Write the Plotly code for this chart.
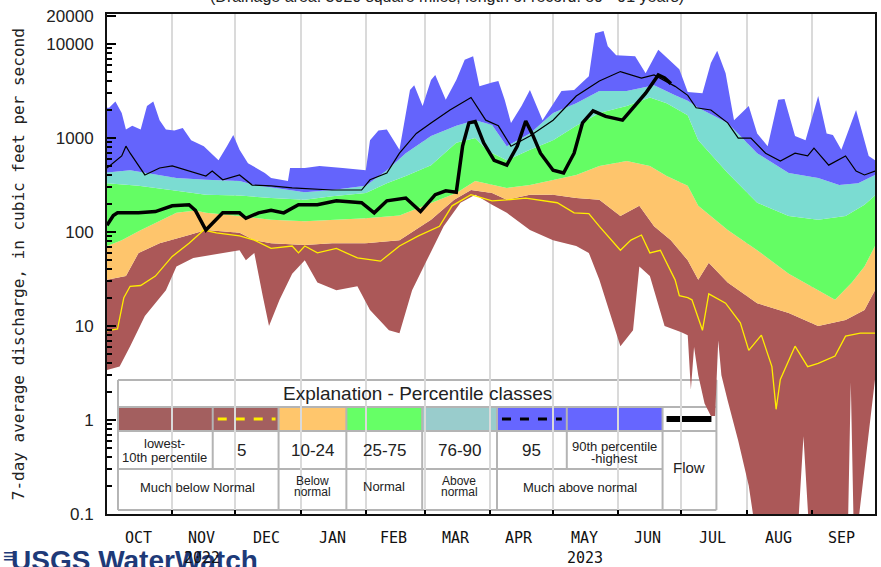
import plotly.graph_objects as go
import pandas as pd

# ---------------- data (day offset from 2022-10-01, value in cfs) ----------------
START = "2022-10-01"

max_days = [0, 1, 4, 7, 9, 12, 16, 19, 22, 25, 28, 32, 36, 40, 46, 53, 57, 60, 63, 67, 75, 78, 86, 87, 94,
            101, 112, 123, 125, 129, 133, 139, 144, 146, 150, 154, 156, 161, 166, 170, 174, 177, 183,
            186, 189, 192, 197, 201, 207, 212, 216, 222, 229, 232, 236, 238, 242, 251, 256, 262, 267, 272,
            276, 283, 287, 290, 294, 298, 305, 309, 314, 319, 322, 327, 332, 338, 342, 345, 349, 356, 362, 365]
max_vals = [2100, 2100, 2450, 1850, 1230, 1350, 1230, 2200, 2450, 1550, 1230, 1200, 1280, 950, 820, 580, 820, 1080,
            750, 540, 425, 375, 350, 480, 480,
            505, 480, 455, 950, 1200, 1230, 750, 3250, 3650, 2200, 4150, 4700, 2550, 4150, 6800, 7400, 3550, 3900,
            4050, 2550, 1450, 2200, 3250, 1550, 2350, 3170, 3250, 4550, 13000, 13800, 9500, 7600, 7400, 4900, 8700,
            6800, 5400,
            3100, 3000, 6300, 8500, 4900, 1550, 2200, 1120, 820, 2550, 2600, 1050, 950, 2800, 1120, 1080, 750, 1990,
            645, 580]

p90_days = [0, 11, 33, 47, 63, 70, 94, 107, 123, 133, 142, 154, 166, 175, 183, 190, 201, 212, 223, 234, 247,
            260, 270, 276, 281, 295, 309, 324, 338, 348, 357, 365]
p90_vals = [430, 455, 375, 360, 350, 316, 265, 280, 310, 455, 690, 1050, 1350, 1550, 1380, 820, 1120, 1850, 2350,
            3170, 3170, 3650, 2850, 2500, 2100, 1450, 690, 425, 375, 316, 330, 405]

p75_days = [0, 15, 33, 47, 63, 78, 94, 107, 123, 133, 142, 154, 166, 175, 181, 190, 201, 212, 223, 234, 247,
            258, 266, 276, 281, 295, 309, 324, 338, 351, 360, 365]
p75_vals = [330, 310, 275, 250, 245, 230, 220, 240, 260, 330, 395, 515, 890, 1000, 730, 580, 750, 950, 1350, 1850,
            2200, 2700, 2350, 1750, 950, 425, 205, 148, 135, 148, 195, 245]

p25_days = [0, 7, 15, 33, 42, 47, 63, 78, 94, 107, 123, 139, 154, 166, 175, 183, 190, 201, 212, 223, 234, 247,
            258, 266, 276, 281, 295, 309, 324, 338, 346, 354, 360, 365]
p25_vals = [71, 82, 102, 160, 170, 160, 148, 135, 130, 135, 140, 150, 205, 260, 350, 320, 295, 316, 360, 405, 505,
            570, 505, 395, 310, 190, 105, 64, 36, 24, 19, 29, 43, 71]

p10_days = [0, 9, 15, 25, 39, 47, 63, 70, 78, 94, 107, 123, 139, 154, 165, 173, 183, 190, 201, 212, 223, 234,
            244, 253, 260, 268, 276, 281, 286, 295, 309, 324, 338, 351, 360, 365]
p10_vals = [31, 34, 60, 76, 93, 105, 98, 82, 76, 73, 76, 76, 82, 135, 220, 280, 260, 220, 250, 250, 230, 220,
            148, 190, 115, 82, 50, 31, 47, 29, 17.5, 13.8, 10, 11.6, 14.8, 24]

min_days = [0, 6, 11, 18, 28, 33, 41, 55, 63, 66, 70, 74, 77, 82, 88, 94, 100, 109, 119, 125, 134, 139, 145, 152,
            160, 168, 175, 183, 190, 201, 212, 223, 229, 234, 239, 244, 250, 253, 258, 265, 273, 276, 277.5, 279,
            281, 284, 287, 289, 290.5, 292, 295, 300, 305, 309, 328, 331, 334, 352, 353.5, 355, 357, 360, 363, 365]
min_vals = [3.4, 3.7, 6.1, 12.8, 24, 43, 53, 60, 64, 50, 60, 21, 10, 19, 36, 50, 29, 24, 26.5, 14.8, 9, 8.4, 24, 50,
            115, 205, 250, 195, 160, 105, 82, 71, 60, 31, 13.8, 6.1, 9, 43, 34, 10, 8.6, 8, 2.1, 6,
            3, 1.5, 1.1, 1.1, 7, 3, 1.6, 0.6, 0.2, 0.05, 0.05, 0.67, 0.05, 0.05, 2.5, 0.05, 0.08, 0.3, 1.0, 2.7]

p5_days = [0, 5, 8, 11, 16, 23, 31, 39, 46, 52, 63, 70, 78, 88, 91, 94, 100, 109, 119, 130, 139, 148, 158, 164,
           173, 183, 190, 199, 214, 222, 229, 234, 244, 249, 254, 258, 263, 270, 272, 276, 278, 283, 286, 294, 301,
           305, 311, 316, 318, 320, 327, 333, 338, 346, 351, 358, 365]
p5_vals = [8.9, 9.3, 20, 26.5, 27, 34, 55, 76, 105, 98, 91, 82, 67, 71, 60, 71, 60, 67, 53, 49, 71, 91, 115, 190,
           250, 215, 220, 230, 205, 160, 157, 115, 64, 82, 93, 60, 64, 31, 21, 20, 19, 9, 22, 17.5, 10.8,
           5.5, 8, 3.7, 1.3, 2.7, 6.1, 3.7, 4.0, 4.8, 7.8, 8.4, 8.4]

p95_days = [0, 7, 9, 11, 18, 25, 31, 39, 47, 50, 55, 63, 69, 78, 88, 107, 121, 125, 133, 139, 147, 154, 163, 173,
            180, 186, 192, 201, 212, 223, 234, 244, 254, 260, 270, 276, 280, 287, 295, 300, 306, 313, 320, 327,
            333, 336, 343, 351, 356, 360, 365]
p95_vals = [480, 645, 820, 690, 405, 480, 505, 445, 395, 445, 360, 405, 316, 310, 295, 280, 280, 360, 425, 690, 1120,
            1450, 1990, 2700, 1550, 1350, 820, 1050, 1550, 2800, 4050, 5100, 4350, 4700, 3550, 2850, 2100, 1990,
            1450, 1000, 1000, 690, 570, 690, 645, 780, 515, 645, 445, 405, 445]

flow_days = [0, 3, 5, 15, 23, 31, 39, 42, 47, 52, 55, 63, 66, 72, 78, 84, 91, 100, 109, 121, 127, 133, 142, 149,
             156, 161, 166, 169, 172, 175, 179, 184, 190, 195, 199, 202, 206, 212, 217, 222, 226, 231, 237, 245,
             250, 256, 262, 265, 268]
flow_vals = [118, 150, 160, 160, 165, 190, 195, 170, 105, 135, 160, 160, 140, 160, 170, 160, 195, 195, 215, 205,
             160, 215, 230, 165, 250, 275, 265, 820, 1450, 1500, 890, 580, 515, 820, 1520, 1120, 690, 455, 425, 690,
             1450, 1950, 1700, 1550, 2100, 3000, 4700, 4350, 3800]

months = ["OCT", "NOV", "DEC", "JAN", "FEB", "MAR", "APR", "MAY", "JUN", "JUL", "AUG", "SEP"]
month_mid = ["2022-10-16", "2022-11-15", "2022-12-16", "2023-01-16", "2023-02-14", "2023-03-16",
             "2023-04-15", "2023-05-16", "2023-06-15", "2023-07-16", "2023-08-16", "2023-09-15"]
month_start = ["2022-11-01", "2022-12-01", "2023-01-01", "2023-02-01", "2023-03-01", "2023-04-01",
               "2023-05-01", "2023-06-01", "2023-07-01", "2023-08-01", "2023-09-01"]
year_labels = [("2022", "2022-11-15"), ("2023", "2023-05-16")]

y_ticks = [0.1, 1, 10, 100, 1000, 10000, 20000]
y_ticktext = ["0.1", "1", "10", "100", "1000", "10000", "20000"]

# ---------------- helpers ----------------
base = pd.Timestamp(START)


def to_dates(days):
    return [base + pd.Timedelta(days=d) for d in days]


L, R, T, B = 107, 877, 14, 514   # plot area in pixels


def px(x):
    return (x - L) / (R - L)


def py(y):
    return (B - y) / (B - T)


BROWN = "#ab5858"
ORANGE = "#fec56c"
GREEN = "#64fd64"
CYAN = "#7bdcd2"
BLUE = "#6464fc"

fig = go.Figure()
bands = [(min_days, min_vals, None), (p10_days, p10_vals, BROWN), (p25_days, p25_vals, ORANGE),
         (p75_days, p75_vals, GREEN), (p90_days, p90_vals, CYAN), (max_days, max_vals, BLUE)]
for d, v, c in bands:
    fig.add_trace(go.Scatter(x=to_dates(d), y=v, mode="lines", line=dict(width=0, color=c or BROWN),
                             fill=None if c is None else "tonexty", fillcolor=c, hoverinfo="skip",
                             showlegend=False))

fig.add_trace(go.Scatter(x=to_dates(p5_days), y=p5_vals, mode="lines",
                         line=dict(color="#ffee00", width=1.3), showlegend=False))
fig.add_trace(go.Scatter(x=to_dates(p95_days), y=p95_vals, mode="lines",
                         line=dict(color="black", width=1.2), showlegend=False))
fig.add_trace(go.Scatter(x=to_dates(flow_days), y=flow_vals, mode="lines",
                         line=dict(color="black", width=3.5), showlegend=False))

minor_vals = [k * 10 ** e for e in range(-1, 4) for k in range(2, 10)]

fig.update_layout(
    width=881, height=567, autosize=False,
    margin=dict(l=L, r=881 - R, t=T, b=567 - B, pad=0),
    plot_bgcolor="white", paper_bgcolor="white",
    xaxis=dict(type="date", range=[base, base + pd.Timedelta(days=365)],
               tickvals=month_start, ticktext=[""] * len(month_start),
               showgrid=True, gridcolor="#dadada", gridwidth=1.5,
               ticks="inside", ticklen=4, tickcolor="black", tickwidth=1.5,
               showline=True, linecolor="#111", linewidth=2, mirror=True, zeroline=False),
    yaxis=dict(type="log", range=[-1, 4.32], tickvals=y_ticks, ticktext=y_ticktext,
               ticks="inside", ticklen=9, tickwidth=1.5, tickcolor="black",
               minor=dict(tickvals=minor_vals, ticks="inside", ticklen=5, tickwidth=1.5, tickcolor="black",
                          showgrid=False),
               showgrid=False, showline=True, linecolor="#111", linewidth=2, mirror=True, zeroline=False,
               tickfont=dict(family="Liberation Sans", size=17, color="#222"), ticklabelstandoff=8),
)

# ---------------- explanation table ----------------
shapes = []


def rect(x0, y0, x1, y1, fill, line_w=0, line_c="#b4b4b4"):
    shapes.append(dict(type="rect", xref="paper", yref="paper", x0=px(x0), x1=px(x1), y0=py(y1), y1=py(y0),
                       fillcolor=fill, line=dict(width=line_w, color=line_c), layer="below"))


def seg(x0, y0, x1, y1, color="#b4b4b4", w=2, dash="solid"):
    shapes.append(dict(type="line", xref="paper", yref="paper", x0=px(x0), x1=px(x1), y0=py(y0), y1=py(y1),
                       line=dict(color=color, width=w, dash=dash), layer="below"))


rect(118, 380, 718, 510, "white")
sw = [(118, 213, "#a35f5f"), (213, 279, "#a35f5f"), (279, 347, "#ffc66c"), (347, 423, "#66ff66"),
      (423, 498, "#99cccc"), (498, 568, "#6666ff"), (568, 664, "#6666ff"), (664, 718, "white")]
for x0, x1, c in sw:
    rect(x0, 407, x1, 431, c)
seg(218, 419, 276, 419, "#ffee00", 3, "dash")
seg(503, 419, 563, 419, "black", 3, "dash")
seg(668, 419, 713, 419, "black", 6)
for yy, x1 in [(380, 718), (407, 718), (431, 718), (469, 664), (510, 718)]:
    seg(118, yy, x1, yy)
seg(118, 380, 118, 510)
seg(718, 380, 718, 510)
for xx in [213, 568]:
    seg(xx, 407, xx, 469)
for xx in [279, 347, 423, 498, 664]:
    seg(xx, 407, xx, 510)
fig.update_layout(shapes=shapes)

ann = []


def text(x, y, s, size, family="Liberation Sans", color="#222", xanchor="center", yanchor="middle", **kw):
    ann.append(dict(x=px(x), y=py(y), xref="paper", yref="paper", text=s, showarrow=False,
                    font=dict(family=family, size=size, color=color), xanchor=xanchor, yanchor=yanchor, **kw))


text(418, 393, "Explanation - Percentile classes", 19)
text(165, 443, "lowest-", 13)
text(165, 457, "10th percentile", 13)
text(242, 450, "5", 17)
text(313, 450, "10-24", 17)
text(385, 450, "25-75", 17)
text(460, 450, "76-90", 17)
text(533, 450, "95", 17)
text(616, 446, "90th percentile", 13)
text(616, 458, "-highest", 13)
text(691, 467, "Flow", 15)
text(198, 487, "Much below Normal", 13)
text(313, 481, "Below", 12)
text(313, 492, "normal", 12)
text(385, 486, "Normal", 13)
text(460, 481, "Above", 12)
text(460, 492, "normal", 12)
text(581, 487, "Much above normal", 13)

# title (partly cut off) and axis title
text(448, 7, "(Drainage area: 3020 square miles, length of record: 89 - 91 years)", 16, yanchor="bottom")
ann.append(dict(x=px(18), y=0.5, xref="paper", yref="paper", text="7-day average discharge, in cubic feet per second",
                showarrow=False, textangle=-90, font=dict(family="DejaVu Sans Mono", size=16, color="#222"),
                xanchor="center", yanchor="middle"))

# logo
text(1, 556, "≡", 20, family="Liberation Sans", color="#1e3a78", xanchor="left")
text(9, 543, "<b>USGS WaterWatch</b>", 28, color="#1e3a78", xanchor="left", yanchor="top")

# month and year labels
for m, d in zip(months, month_mid):
    ann.append(dict(x=d, y=py(538), xref="x", yref="paper", text=m, showarrow=False,
                    font=dict(family="DejaVu Sans Mono", size=15, color="#111"), xanchor="center", yanchor="middle"))
for s, d in year_labels:
    ann.append(dict(x=d, y=py(558), xref="x", yref="paper", text=s, showarrow=False,
                    font=dict(family="DejaVu Sans Mono", size=15, color="#111"), xanchor="center", yanchor="middle"))

fig.update_layout(annotations=ann)
fig.write_html("out.html", config={"displayModeBar": False},
               post_script="document.body.style.margin='0';document.body.style.overflow='hidden';")
